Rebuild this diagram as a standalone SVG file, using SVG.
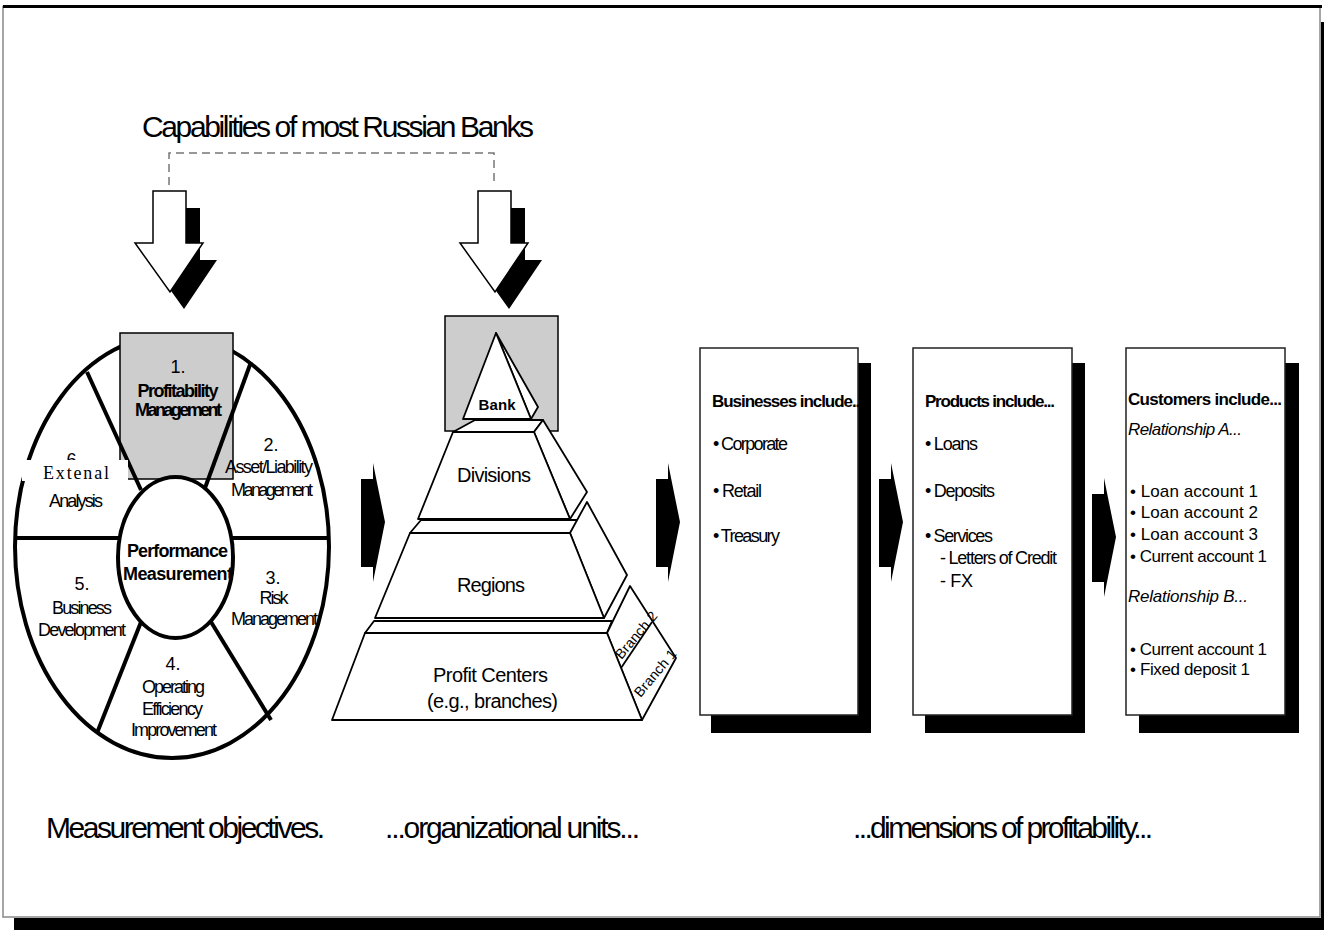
<svg xmlns="http://www.w3.org/2000/svg" width="1324" height="930" viewBox="0 0 1324 930">
<style>
.t{font-family:"Liberation Sans",Arial,sans-serif;fill:#000}
.b{font-weight:bold}
.c{text-anchor:middle}
.i{font-style:italic}
.s18{font-size:18px}
.s17{font-size:17px}
.s16{font-size:16px}
.s15{font-size:15px}
.s20{font-size:20px}
.s30{font-size:30px}
.thick{fill:none;stroke:#000;stroke-width:4}
.face{fill:#fff;stroke:#000;stroke-width:1.8;stroke-linejoin:round}
.gray{fill:#cdcdcd;stroke:#000;stroke-width:1.5}
.box{fill:#fff;stroke:#222;stroke-width:1.5}
</style>
<defs>
<polygon id="chev" points="0,16 12,16 12,0 24,59 12,119 12,104 0,104" fill="#000"/>
<polygon id="darrow" points="153,191 186,191 186,243 203,243 170,292 135,243 153,243"/>
</defs>
<rect width="1324" height="930" fill="#fff"/>
<g id="frame">
<rect x="1321" y="22" width="3" height="908" fill="#000"/>
<rect x="14" y="918" width="1310" height="12" fill="#000"/>
<rect x="3" y="6.5" width="1317" height="910.5" fill="#fff" stroke="#888" stroke-width="1.5"/>
<line x1="3" y1="6.5" x2="1322" y2="6.5" stroke="#000" stroke-width="3"/>
</g>
<g id="title">
<text class="t s30" x="142" y="137" textLength="392">Capabilities of most Russian Banks</text>
</g>
<g id="connectors">
<polyline points="169,185 169,153 494,153 494,185" fill="none" stroke="#777" stroke-width="1.5" stroke-dasharray="8,5"/>
<use href="#darrow" transform="translate(14,17)" fill="#000"/>
<use href="#darrow" fill="#fff" stroke="#000" stroke-width="1.5"/>
<use href="#darrow" transform="translate(339,17)" fill="#000"/>
<use href="#darrow" transform="translate(325,0)" fill="#fff" stroke="#000" stroke-width="1.5"/>
<use href="#chev" x="361" y="463"/>
<use href="#chev" x="656" y="463"/>
<use href="#chev" x="879" y="463"/>
<use href="#chev" x="1092" y="478"/>
</g>
<g id="objectives-wheel">
<ellipse cx="172" cy="546.5" rx="157" ry="211.5" fill="#fff" stroke="#000" stroke-width="4"/>
<line x1="14" y1="538" x2="120" y2="538" class="thick"/>
<line x1="232" y1="538" x2="328" y2="538" class="thick"/>
<rect x="120" y="333" width="113" height="146" class="gray"/>
<line x1="87" y1="372" x2="141" y2="490" class="thick"/>
<line x1="251" y1="362" x2="205" y2="488" class="thick"/>
<line x1="143" y1="617" x2="97" y2="733" class="thick"/>
<line x1="208" y1="617" x2="271" y2="720" class="thick"/>
<ellipse cx="175.5" cy="557.5" rx="57.5" ry="80.5" fill="#fff" stroke="#000" stroke-width="4"/>
<text class="t s18 c" x="74" y="466">6.</text>
<rect x="22" y="460" width="106" height="21" fill="#fff"/>
<text x="43" y="479" textLength="66" style="font-family:'Liberation Serif','Times New Roman',serif;font-size:18px">Extenal</text>
<text class="t s18 c" x="76" y="507" textLength="54">Analysis</text>
<text class="t s18 c" x="178" y="373">1.</text>
<text class="t s18 c b" x="178" y="397" textLength="81">Profitability</text>
<text class="t s18 c b" x="178.5" y="416" textLength="87">Management</text>
<text class="t s18 c" x="271" y="451">2.</text>
<text class="t s18 c" x="269" y="473" textLength="88">Asset/Liability</text>
<text class="t s18 c" x="272" y="496" textLength="82">Management</text>
<text class="t c b s18" x="177.5" y="557" textLength="101">Performance</text>
<text class="t c b s18" x="178" y="580" textLength="110">Measurement</text>
<text class="t s18 c" x="273" y="584">3.</text>
<text class="t s18 c" x="274" y="604" textLength="29">Risk</text>
<text class="t s18 c" x="274.5" y="625" textLength="87">Management</text>
<text class="t s18 c" x="82" y="590">5.</text>
<text class="t s18 c" x="82" y="614" textLength="60">Business</text>
<text class="t s18 c" x="82" y="636" textLength="88">Development</text>
<text class="t s18 c" x="173" y="670">4.</text>
<text class="t s18 c" x="173.5" y="693" textLength="63">Operating</text>
<text class="t s18 c" x="172.5" y="715" textLength="61">Efficiency</text>
<text class="t s18 c" x="174" y="736" textLength="86">Improvement</text>
</g>
<g id="org-pyramid">
<rect x="445" y="316" width="113" height="115" class="gray"/>
<polygon class="face" points="365,633 374,621 612,621 607,633"/>
<polygon class="face" points="607,633 630,586 676,658 642,720"/>
<line x1="621" y1="668" x2="652" y2="622" stroke="#000" stroke-width="1.8"/>
<polygon class="face" points="365,633 607,633 642,720 332,720"/>
<polygon class="face" points="410,533 421,520 580,520 570,533"/>
<polygon class="face" points="570,533 587,502 627,575 604,618"/>
<polygon class="face" points="410,533 570,533 604,618 375,618"/>
<polygon class="face" points="453,432 475,420 543,420 534,432"/>
<polygon class="face" points="534,432 543,420 587,492 570,519"/>
<polygon class="face" points="453,432 534,432 570,519 418,519"/>
<polygon class="face" points="496,333 538,407 531,419"/>
<polygon class="face" points="496,333 531,419 463,419"/>
<text class="t s15 c b" x="497" y="410" textLength="37">Bank</text>
<text class="t s20 c" x="494" y="482" textLength="74">Divisions</text>
<text class="t s20 c" x="491" y="592" textLength="68">Regions</text>
<text class="t s20 c" x="490.5" y="682" textLength="115">Profit Centers</text>
<text class="t s20 c" x="492.5" y="708" textLength="131">(e.g., branches)</text>
<text class="t c" style="font-size:14px" transform="translate(636,635) rotate(-50)" x="0" y="5" textLength="57">Branch 2</text>
<text class="t c" style="font-size:14px" transform="translate(655,673) rotate(-50)" x="0" y="5" textLength="57">Branch 1</text>
</g>
<g id="businesses">
<rect x="711" y="363" width="160" height="370" fill="#000"/>
<rect x="700" y="348" width="158" height="367" class="box"/>
<text class="t s17 b" x="712" y="407" textLength="152">Businesses include...</text>
<text class="t s18" x="713" y="450" textLength="75">• Corporate</text>
<text class="t s18" x="713" y="497" textLength="49">• Retail</text>
<text class="t s18" x="713" y="542" textLength="67">• Treasury</text>
</g>
<g id="products">
<rect x="925" y="363" width="160" height="370" fill="#000"/>
<rect x="913" y="348" width="159" height="367" class="box"/>
<text class="t s17 b" x="925" y="407" textLength="130">Products include...</text>
<text class="t s18" x="925" y="450" textLength="53">• Loans</text>
<text class="t s18" x="925" y="497" textLength="70">• Deposits</text>
<text class="t s18" x="925" y="542" textLength="68">• Services</text>
<text class="t s18" x="940" y="564" textLength="117">- Letters of Credit</text>
<text class="t s18" x="940" y="587" textLength="33">- FX</text>
</g>
<g id="customers">
<rect x="1139" y="363" width="160" height="370" fill="#000"/>
<rect x="1126" y="348" width="159" height="367" class="box"/>
<text class="t s17 b" x="1128" y="405" textLength="154">Customers include...</text>
<text class="t s17 i" x="1128" y="435" textLength="114">Relationship A...</text>
<text class="t s17" x="1130" y="497" textLength="128">• Loan account 1</text>
<text class="t s17" x="1130" y="518" textLength="128">• Loan account 2</text>
<text class="t s17" x="1130" y="540" textLength="128">• Loan account 3</text>
<text class="t s17" x="1130" y="562" textLength="137">• Current account 1</text>
<text class="t s17 i" x="1128" y="602" textLength="120">Relationship B...</text>
<text class="t s17" x="1130" y="655" textLength="137">• Current account 1</text>
<text class="t s17" x="1130" y="675" textLength="120">• Fixed deposit 1</text>
</g>
<g id="captions">
<text class="t s30" x="46" y="838" textLength="279">Measurement objectives.</text>
<text class="t s30" x="385" y="838" textLength="255">...organizational units...</text>
<text class="t s30" x="853" y="838" textLength="300">...dimensions of profitability...</text>
</g>
</svg>
